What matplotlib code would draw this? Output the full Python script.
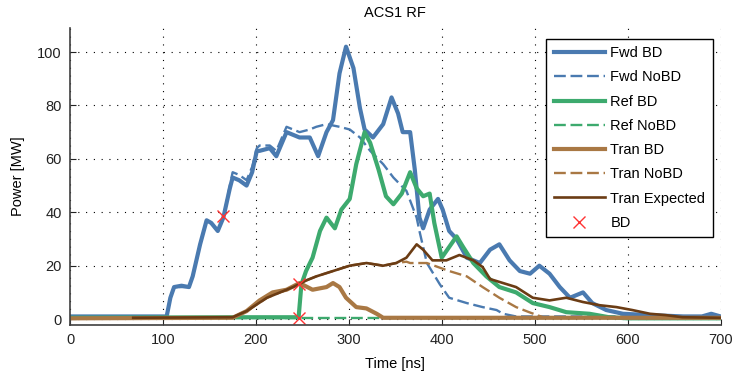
import matplotlib
matplotlib.use('Agg')
import matplotlib.pyplot as plt

plt.rcParams['font.family'] = ['Liberation Sans', 'DejaVu Sans']

# Fwd BD
fwd_bd_t = [0, 104, 108, 112, 120, 128, 132, 140, 147, 152, 159, 165, 172, 175, 182, 190, 196, 201, 204,
            215, 222, 233, 247, 258, 267, 276, 283, 290, 297, 305, 312, 317, 326, 337, 346, 353, 358, 366,
            371, 376, 380, 387, 396, 401, 408, 416, 427, 441, 452, 462, 473, 484, 495, 505, 516, 527, 538,
            552, 562, 577, 595, 624, 660, 680, 690, 700]
fwd_bd_p = [1, 1, 8, 12, 12.5, 12, 16, 28, 37, 36, 33, 38, 49, 53, 52, 50, 55, 63, 63,
            64, 61, 70, 68, 68, 61, 70, 74.5, 92, 102, 94, 79, 71, 68, 73, 83, 77, 70, 70,
            56, 38, 34, 41, 45, 41, 33, 30, 23, 21, 26, 28, 22, 18, 17, 20, 17, 12, 8,
            10, 6, 3.4, 2, 1.5, 1, 1, 2, 1]

# Fwd NoBD
fwd_nobd_t = [0, 104, 108, 112, 128, 132, 140, 147, 152, 159, 165, 172, 175, 182, 190, 196, 201, 204,
              215, 222, 233, 247, 258, 265, 276, 290, 301, 312, 323, 337, 348, 362, 373, 376, 384, 398,
              408, 427, 444, 459, 466, 480, 700]
fwd_nobd_p = [1, 1, 8, 12, 12, 16, 28, 37, 36, 33, 38, 50, 55, 54, 52, 57, 64, 65,
              65, 63, 72, 70, 71, 72, 73, 72, 71, 68, 63, 58, 53, 48, 38, 33, 21, 13,
              8, 6, 4.5, 3.4, 2, 1, 1]

# Ref BD
ref_bd_t = [0, 175, 246, 249, 254, 261, 269, 276, 285, 292, 301, 308, 317, 323, 332, 340, 348, 357, 366,
            373, 380, 387, 392, 400, 408, 416, 423, 434, 448, 462, 480, 498, 516, 534, 559, 580, 600, 700]
ref_bd_p = [0.5, 0.7, 0.7, 13, 18, 23, 33, 38, 34, 41, 45, 58, 70, 66, 56, 46, 43, 47, 55,
            49, 46, 47, 36, 23, 27, 31, 27, 21, 16, 12, 10, 6, 4.5, 2.6, 2, 0.7, 0.3, 0.3]

# Ref NoBD
ref_nobd_t = [0, 700]
ref_nobd_p = [0.3, 0.3]

# Tran BD
tran_bd_t = [0, 175, 190, 204, 218, 233, 247, 261, 276, 283, 290, 297, 308, 319, 330, 337, 700]
tran_bd_p = [0.3, 0.5, 3, 7, 10, 11, 13.5, 11, 12, 13.5, 12, 8, 4.5, 4, 2, 0.5, 0.5]

# Tran NoBD
tran_nobd_t = [68, 175, 190, 212, 226, 240, 255, 265, 283, 301, 319, 337, 351, 362, 366, 384, 408, 427,
               444, 462, 480, 494, 509, 700]
tran_nobd_p = [0.5, 0.7, 3, 8, 10, 12, 14.6, 16, 18, 20, 21, 20, 21, 21.5, 21, 21, 18, 16,
               12, 8, 4.5, 2.6, 0.7, 0.5]

# Tran Expected
tran_exp_t = [68, 175, 190, 212, 226, 240, 255, 265, 283, 301, 319, 337, 351, 362, 373, 380, 390, 405,
              419, 434, 444, 452, 466, 480, 498, 516, 534, 552, 570, 588, 605, 624, 641, 659, 700]
tran_exp_p = [0.5, 0.7, 3, 8, 10, 12, 14.6, 16, 18, 20, 21, 20, 21, 23, 28, 26, 22, 22,
              24, 22, 19.5, 15, 13.5, 12, 8, 7, 8, 6.4, 5.2, 4.5, 3.4, 2, 1.5, 0.7, 0.5]

# BD markers
bd_t = [165, 246, 246]
bd_p = [38.5, 13, 0.3]

c_fwd = '#4a7ab0'
c_ref = '#3daa6e'
c_tran = '#a97844'
c_exp = '#6b3c14'

fig = plt.figure(figsize=(7.33, 3.73), dpi=100)
ax = fig.add_axes([0.0955, 0.1287, 0.8875, 0.7963])

dash = (0, (5, 2))
ax.plot(fwd_bd_t, fwd_bd_p, color=c_fwd, lw=3.0, label='Fwd BD')
ax.plot(fwd_nobd_t, fwd_nobd_p, color=c_fwd, lw=1.7, ls=dash, label='Fwd NoBD')
ax.plot(ref_bd_t, ref_bd_p, color=c_ref, lw=3.0, label='Ref BD')
ax.plot(ref_nobd_t, ref_nobd_p, color=c_ref, lw=1.7, ls=dash, label='Ref NoBD')
ax.plot(tran_bd_t, tran_bd_p, color=c_tran, lw=3.0, label='Tran BD')
ax.plot(tran_nobd_t, tran_nobd_p, color=c_tran, lw=1.7, ls=dash, label='Tran NoBD')
ax.plot(tran_exp_t, tran_exp_p, color=c_exp, lw=1.9, label='Tran Expected')
ax.plot(bd_t, bd_p, 'x', color='#ff3333', ms=9, mew=1.0, label='BD')

ax.set_xlim(0, 700)
ax.set_ylim(-2.2, 109)
ax.set_xticks(range(0, 701, 100))
ax.set_yticks(range(0, 101, 20))
ax.grid(True, color='black', ls=(0, (1, 6)), lw=0.8)
ax.tick_params(direction='in', length=4, labelsize=10.5, colors='#222222', pad=6)
for s in ['top', 'right']:
    ax.spines[s].set_visible(False)
for s in ['left', 'bottom']:
    ax.spines[s].set_color('#404040')
    ax.spines[s].set_linewidth(1.2)

ax.set_title('ACS1 RF', fontsize=10.5, pad=8)
ax.set_xlabel('Time [ns]', fontsize=10.5, labelpad=7)
ax.set_ylabel('Power [MW]', fontsize=10.5, labelpad=9)

leg = ax.legend(loc='upper right', bbox_to_anchor=(0.988, 0.963), borderaxespad=0,
                fontsize=10.5, handlelength=3.5, handletextpad=0.4, labelspacing=0.7,
                borderpad=0.5, fancybox=False, framealpha=1, edgecolor='black')
leg.get_frame().set_linewidth(1.0)

fig.savefig('out.png', dpi=100)
